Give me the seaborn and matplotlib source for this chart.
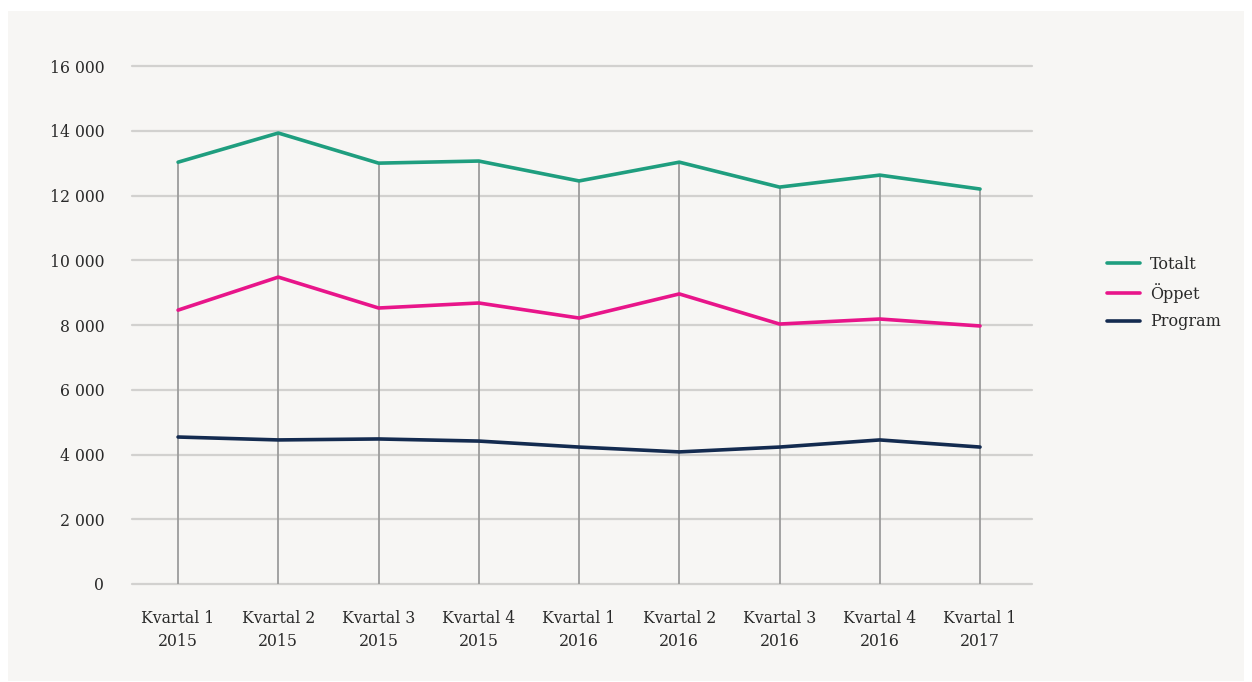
import matplotlib
matplotlib.use("Agg")
import matplotlib.pyplot as plt
import matplotlib.patches as patches
import seaborn as sns
import pandas as pd

# data
quarters = ["Kvartal 1\n2015", "Kvartal 2\n2015", "Kvartal 3\n2015", "Kvartal 4\n2015",
            "Kvartal 1\n2016", "Kvartal 2\n2016", "Kvartal 3\n2016", "Kvartal 4\n2016",
            "Kvartal 1\n2017"]
totalt = [13030, 13930, 13000, 13065, 12450, 13030, 12260, 12630, 12200]
oppet = [8460, 9480, 8525, 8680, 8215, 8960, 8030, 8185, 7970]
program = [4540, 4450, 4480, 4415, 4230, 4080, 4230, 4450, 4230]
yticks = [0, 2000, 4000, 6000, 8000, 10000, 12000, 14000, 16000]

series = {"Totalt": totalt, "Öppet": oppet, "Program": program}
colors = {"Totalt": "#1f9e7f", "Öppet": "#e8158a", "Program": "#142b50"}

rows = []
for name, vals in series.items():
    for q, v in zip(quarters, vals):
        rows.append({"quarter": q, "value": v, "serie": name})
df = pd.DataFrame(rows)

sns.set_style("white")
plt.rcParams["font.family"] = ["DejaVu Serif"]
plt.rcParams["text.color"] = "#2a2a2a"

fig = plt.figure(figsize=(12.52, 6.82), dpi=100)
fig.patch.set_facecolor("white")
bg = patches.Rectangle((8 / 1252, 1 / 682), 1236 / 1252, 670 / 682,
                       transform=fig.transFigure, facecolor="#f7f6f4",
                       edgecolor="none", zorder=-10)
fig.patches.append(bg)

ax = fig.add_axes([0.1054, 0.1437, 0.719, 0.7595])
ax.set_facecolor("none")

# horizontal grid
for t in yticks:
    ax.axhline(t, color="#d2d1cf", lw=1.6, zorder=1, clip_on=False)

# drop lines from zero up to the total
x_idx = list(range(len(quarters)))
ax.vlines(x_idx, 0, totalt, color="#9c9c9c", lw=1.3, zorder=2)

sns.lineplot(data=df, x="quarter", y="value", hue="serie", palette=colors,
             sort=False, lw=2.6, ax=ax, zorder=3)

ax.set_xlim(-0.46, 8.52)
ax.set_ylim(0, 16000)
ax.set_yticks(yticks)
ax.set_yticklabels([f"{t:,}".replace(",", " ") for t in yticks])
ax.set_xlabel("")
ax.set_ylabel("")
ax.tick_params(axis="both", length=0, labelsize=11.3, colors="#2a2a2a")
ax.tick_params(axis="y", pad=20)
ax.tick_params(axis="x", pad=19)
for lab in ax.get_xticklabels():
    lab.set_linespacing(1.45)
for s in ax.spines.values():
    s.set_visible(False)

leg = ax.legend(loc="center left", bbox_to_anchor=(1.067, 0.562), frameon=False,
                fontsize=11.5, handlelength=2.1, handletextpad=0.6, labelspacing=0.65)
for line in leg.get_lines():
    line.set_linewidth(2.6)

fig.savefig("out.png", dpi=100)
